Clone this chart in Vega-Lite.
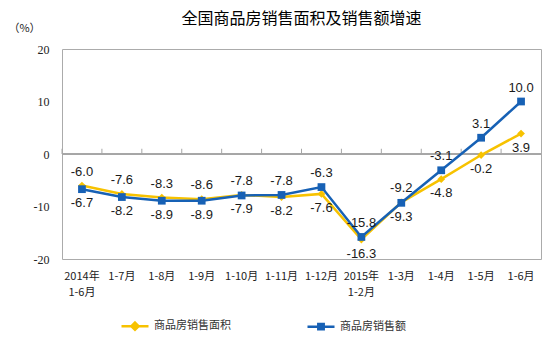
{
  "$schema": "https://vega.github.io/schema/vega-lite/v6.json",
  "width": 479,
  "height": 210,
  "autosize": {"type": "none"},
  "padding": {"left": 62, "top": 49, "right": 6, "bottom": 94},
  "background": "white",
  "title": {
    "text": "全国商品房销售面积及销售额增速",
    "font": "Noto Sans CJK SC",
    "fontSize": 16,
    "fontWeight": "normal",
    "color": "#000000",
    "anchor": "middle",
    "frame": "group",
    "offset": 0,
    "dy": 5
  },
  "config": {"view": {"stroke": "#ABABAB", "strokeWidth": 1}},
  "data": {
    "values": [
      {"month": "2014年1-6月", "series": "商品房销售面积", "value": -6.0},
      {"month": "1-7月", "series": "商品房销售面积", "value": -7.6},
      {"month": "1-8月", "series": "商品房销售面积", "value": -8.3},
      {"month": "1-9月", "series": "商品房销售面积", "value": -8.6},
      {"month": "1-10月", "series": "商品房销售面积", "value": -7.8},
      {"month": "1-11月", "series": "商品房销售面积", "value": -8.2},
      {"month": "1-12月", "series": "商品房销售面积", "value": -7.6},
      {"month": "2015年1-2月", "series": "商品房销售面积", "value": -16.3},
      {"month": "1-3月", "series": "商品房销售面积", "value": -9.2},
      {"month": "1-4月", "series": "商品房销售面积", "value": -4.8},
      {"month": "1-5月", "series": "商品房销售面积", "value": -0.2},
      {"month": "1-6月", "series": "商品房销售面积", "value": 3.9},
      {"month": "2014年1-6月", "series": "商品房销售额", "value": -6.7},
      {"month": "1-7月", "series": "商品房销售额", "value": -8.2},
      {"month": "1-8月", "series": "商品房销售额", "value": -8.9},
      {"month": "1-9月", "series": "商品房销售额", "value": -8.9},
      {"month": "1-10月", "series": "商品房销售额", "value": -7.9},
      {"month": "1-11月", "series": "商品房销售额", "value": -7.8},
      {"month": "1-12月", "series": "商品房销售额", "value": -6.3},
      {"month": "2015年1-2月", "series": "商品房销售额", "value": -15.8},
      {"month": "1-3月", "series": "商品房销售额", "value": -9.3},
      {"month": "1-4月", "series": "商品房销售额", "value": -3.1},
      {"month": "1-5月", "series": "商品房销售额", "value": 3.1},
      {"month": "1-6月", "series": "商品房销售额", "value": 10.0}
    ]
  },
  "transform": [
    {"joinaggregate": [{"op": "max", "field": "value", "as": "maxv"}], "groupby": ["month"]}
  ],
  "encoding": {
    "x": {
      "field": "month",
      "type": "ordinal",
      "sort": null,
      "scale": {"paddingInner": 0, "paddingOuter": 0},
      "axis": {
        "title": null,
        "domain": false,
        "ticks": false,
        "labelAngle": 0,
        "labelFont": "Noto Sans CJK SC",
        "labelFontSize": 11,
        "labelColor": "#222222",
        "labelPadding": 11,
        "labelLineHeight": 16,
        "labelOverlap": false,
        "labelBound": false,
        "labelExpr": "indexof(datum.label, '年') > 0 ? [substring(datum.label, 0, 5), substring(datum.label, 5)] : datum.label"
      }
    },
    "y": {
      "field": "value",
      "type": "quantitative",
      "scale": {"domain": [-20, 20], "nice": false, "zero": false},
      "axis": {
        "values": [-20, -10, 0, 10, 20],
        "labelExpr": "replace(datum.label, '\u2212', '-')",
        "title": "（%）",
        "titleAngle": 0,
        "titleX": -38,
        "titleY": -21,
        "titleAlign": "center",
        "titleBaseline": "middle",
        "titleFont": "Noto Sans CJK SC",
        "titleFontSize": 11,
        "titleFontWeight": "normal",
        "titleColor": "#222222",
        "grid": false,
        "domain": false,
        "ticks": false,
        "labelFont": "Liberation Serif",
        "labelFontSize": 12,
        "labelColor": "#222222",
        "labelPadding": 13
      }
    }
  },
  "layer": [
    {
      "mark": {"type": "rule", "color": "#A6A6A6", "strokeWidth": 1},
      "encoding": {"x": null, "y": {"datum": 0}}
    },
    {
      "transform": [{"filter": "datum.series === '商品房销售额'"}],
      "mark": {"type": "rule", "color": "#A6A6A6", "strokeWidth": 1},
      "encoding": {
        "x": {
          "field": "month",
          "type": "ordinal",
          "sort": null,
          "bandPosition": 0
        },
        "y": {"datum": 0},
        "y2": {"datum": 1}
      }
    },
    {
      "mark": {"type": "line", "strokeWidth": 2.5},
      "encoding": {
        "color": {
          "field": "series",
          "type": "nominal",
          "scale": {"domain": ["商品房销售面积", "商品房销售额"], "range": ["#F7C200", "#1761B5"]},
          "legend": {
            "title": null,
            "orient": "none",
            "direction": "horizontal",
            "legendX": 58,
            "legendY": 262,
            "padding": 0,
            "symbolSize": 729,
            "symbolStrokeWidth": 2.5,
            "labelFont": "Noto Sans CJK SC",
            "labelFontSize": 11,
            "labelColor": "#333333",
            "labelOffset": 4,
            "columnPadding": 71
          }
        }
      }
    },
    {
      "transform": [{"filter": "datum.series === '商品房销售面积'"}],
      "mark": {"type": "point", "shape": "diamond", "filled": true, "opacity": 1, "size": 60, "color": "#F7C200"}
    },
    {
      "transform": [{"filter": "datum.series === '商品房销售额'"}],
      "mark": {"type": "point", "shape": "square", "filled": true, "opacity": 1, "size": 60, "color": "#1761B5"}
    },
    {
      "transform": [{"filter": "datum.value === datum.maxv"}],
      "mark": {"type": "text", "dy": -14, "font": "Liberation Sans", "fontSize": 13, "color": "#1a1a1a", "text": {"expr": "replace(format(datum.value, '.1f'), '\u2212', '-')"}}
    },
    {
      "transform": [{"filter": "datum.value !== datum.maxv"}],
      "mark": {"type": "text", "dy": 14, "font": "Liberation Sans", "fontSize": 13, "color": "#1a1a1a", "text": {"expr": "replace(format(datum.value, '.1f'), '\u2212', '-')"}}
    },
    {
      "mark": {"type": "point", "size": 0, "filled": true, "opacity": 1},
      "encoding": {
        "fill": {
          "field": "series",
          "type": "nominal",
          "scale": {"domain": ["商品房销售面积", "商品房销售额"], "range": ["#F7C200", "#1761B5"]},
          "legend": {
            "title": null,
            "orient": "none",
            "direction": "horizontal",
            "legendX": 58,
            "legendY": 262,
            "padding": 0,
            "symbolSize": 729,
            "symbolStrokeWidth": 2.5,
            "labelFont": "Noto Sans CJK SC",
            "labelFontSize": 11,
            "labelColor": "#333333",
            "labelOffset": 4,
            "columnPadding": 71
          }
        },
        "shape": {
          "field": "series",
          "type": "nominal",
          "scale": {"domain": ["商品房销售面积", "商品房销售额"], "range": ["M-1,0H1M0,-0.27L0.27,0L0,0.27L-0.27,0Z", "M-1,0H1M-0.2,-0.2H0.2V0.2H-0.2Z"]},
          "legend": {
            "title": null,
            "orient": "none",
            "direction": "horizontal",
            "legendX": 58,
            "legendY": 262,
            "padding": 0,
            "symbolSize": 729,
            "symbolStrokeWidth": 2.5,
            "labelFont": "Noto Sans CJK SC",
            "labelFontSize": 11,
            "labelColor": "#333333",
            "labelOffset": 4,
            "columnPadding": 71
          }
        }
      }
    }
  ]
}
